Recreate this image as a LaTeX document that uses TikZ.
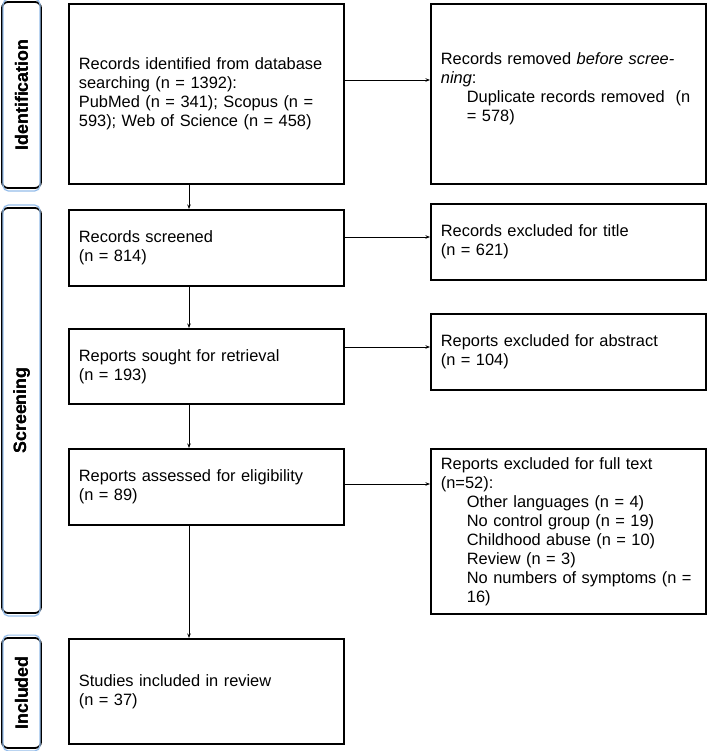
\documentclass[tikz,border=0pt]{standalone}
\usepackage{fontspec}
\setmainfont{Liberation Sans}
\usetikzlibrary{arrows.meta,calc}
\definecolor{sideblue}{RGB}{150,190,235}
\begin{document}
\begin{tikzpicture}[x=1bp,y=-1bp,
  box/.style={draw=black, line width=1.8bp, rectangle, anchor=north west,
    inner xsep=10bp, inner ysep=0bp, text width=255bp, minimum width=275bp,
    align=left, font=\fontsize{16.4bp}{19bp}\selectfont},
  side/.style={draw=black, line width=1.8bp, rounded corners=6bp, fill=white,
    rotate=90, minimum height=39bp, inner sep=0pt,
    font=\bfseries\fontsize{17.8bp}{20bp}\selectfont},
  sideinner/.style={draw=sideblue, line width=1.2bp, rounded corners=5bp},
  arr/.style={-{Stealth[length=4.5bp,width=3.5bp]}, line width=0.8bp}]
\useasboundingbox (0,0) rectangle (708,751);
\fill[white] (0,0) rectangle (708,751);

% side bars
\node[side, minimum width=186bp] (s1) at (21.5,95) {Identification};
\node[side, minimum width=405bp] (s2) at (21.5,410.5) {Screening};
\node[side, minimum width=110bp] (s3) at (21.5,693) {Included};
\foreach \s in {s1,s2,s3}{
  \draw[sideinner] ($(\s.north east)+(2,-2)$) rectangle ($(\s.south west)+(-2,2)$);
}
\node[side, draw=none, fill=none, minimum width=186bp] at (s1) {Identification};
\node[side, draw=none, fill=none, minimum width=405bp] at (s2) {Screening};
\node[side, draw=none, fill=none, minimum width=110bp] at (s3) {Included};

% left column
\node[box, minimum height=180bp] (b1) at (68,3)
  {Records identified from database\\searching (n = 1392):\\PubMed (n = 341); Scopus (n =\\593); Web of Science (n = 458)};
\node[box, minimum height=76bp] (b2) at (68,209)
  {Records screened\\(n = 814)};
\node[box, minimum height=75bp] (b3) at (68,328)
  {Reports sought for retrieval\\(n = 193)};
\node[box, minimum height=76bp] (b4) at (68,448)
  {Reports assessed for eligibility\\(n = 89)};
\node[box, minimum height=105bp] (b5) at (68,638)
  {Studies included in review\\(n = 37)};

% right column
\node[box, minimum height=180bp] (r1) at (430,3)
  {Records removed \textit{before scree-}\\\textit{ning}:\\\hspace*{26bp}Duplicate records removed~ (n\\\hspace*{26bp}= 578)\\[-5bp]\mbox{}};
\node[box, minimum height=76bp] (r2) at (430,203)
  {Records excluded for title\\(n = 621)};
\node[box, minimum height=76bp] (r3) at (430,313)
  {Reports excluded for abstract\\(n = 104)};
\node[box, minimum height=165bp] (r4) at (430,448)
  {Reports excluded for full text\\(n=52):\\
   \hspace*{26bp}Other languages (n = 4)\\
   \hspace*{26bp}No control group (n = 19)\\
   \hspace*{26bp}Childhood abuse (n = 10)\\
   \hspace*{26bp}Review (n = 3)\\
   \hspace*{26bp}No numbers of symptoms (n =\\
   \hspace*{26bp}16)};

% arrow guide coordinates
\coordinate (vx) at (189,0);
\coordinate (h1) at (0,80);
\coordinate (h2) at (0,237);
\coordinate (h3) at (0,347);
\coordinate (h4) at (0,484);

% vertical arrows
\draw[arr] (b1.south -| vx) -- (b2.north -| vx);
\draw[arr] (b2.south -| vx) -- (b3.north -| vx);
\draw[arr] (b3.south -| vx) -- (b4.north -| vx);
\draw[arr] (b4.south -| vx) -- (b5.north -| vx);

% horizontal arrows
\draw[arr] (b1.east |- h1) -- (r1.west |- h1);
\draw[arr] (b2.east |- h2) -- (r2.west |- h2);
\draw[arr] (b3.east |- h3) -- (r3.west |- h3);
\draw[arr] (b4.east |- h4) -- (r4.west |- h4);
\end{tikzpicture}
\end{document}
